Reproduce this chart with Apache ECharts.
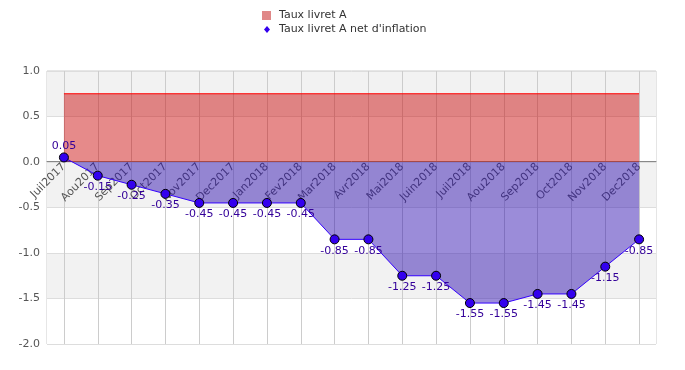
<!DOCTYPE html>
<html>
<head>
<meta charset="utf-8">
<script src="https://cdn.jsdelivr.net/npm/echarts@6/dist/echarts.min.js"></script>
<style>html,body{margin:0;padding:0;background:#fff}#c{width:685px;height:370px}</style>
</head>
<body>
<div id="c"></div>
<script>
var categories = ['Juil2017','Aou2017','Sep2017','Oct2017','Nov2017','Dec2017','Jan2018','Fev2018','Mar2018','Avr2018','Mai2018','Juin2018','Juil2018','Aou2018','Sep2018','Oct2018','Nov2018','Dec2018'];
var tauxLivretA = [0.75,0.75,0.75,0.75,0.75,0.75,0.75,0.75,0.75,0.75,0.75,0.75,0.75,0.75,0.75,0.75,0.75,0.75];
var tauxNet = [0.05,-0.15,-0.25,-0.35,-0.45,-0.45,-0.45,-0.45,-0.85,-0.85,-1.25,-1.25,-1.55,-1.55,-1.45,-1.45,-1.15,-0.85];
var seriesNames = ['Taux livret A', "Taux livret A net d'inflation"];

var FONT = 'DejaVu Sans';
var chart = echarts.init(document.getElementById('c'), null, {renderer: 'canvas'});
var netData = tauxNet.map(function (v) {
  return {value: v, label: {position: v >= 0 ? 'top' : 'bottom'}};
});
chart.setOption({
  animation: false,
  textStyle: {fontFamily: FONT},
  legend: [{
    data: [{name: seriesNames[0], icon: 'rect'}],
    left: 262, top: 10, itemWidth: 9, itemHeight: 9, padding: 0,
    textStyle: {fontFamily: FONT, fontSize: 11, color: '#333', padding: [0, 0, 0, 3]}
  }, {
    data: [{name: seriesNames[1], icon: 'diamond', itemStyle: {color: '#3300ee', borderWidth: 0}}],
    left: 264, top: 24, itemWidth: 6, itemHeight: 7, padding: 0,
    itemStyle: {color: '#3300ee', borderWidth: 0},
    textStyle: {fontFamily: FONT, fontSize: 11, color: '#333', padding: [0, 0, 0, 4]}
  }],
  grid: {left: 47, right: 29, top: 71, bottom: 26, show: true, borderColor: '#cccccc', borderWidth: 1, backgroundColor: 'transparent', containLabel: false, outerBoundsMode: 'none'},
  xAxis: {
    type: 'category',
    data: categories,
    boundaryGap: true,
    offset: -183,
    axisLine: {onZero: false, lineStyle: {color: '#888', width: 1}},
    axisTick: {show: false, alignWithLabel: true},
    axisLabel: {rotate: 45, color: '#555', fontFamily: FONT, fontSize: 11, margin: 4, interval: 0},
    splitLine: {show: true, alignWithLabel: true, interval: 0, lineStyle: {color: '#cccccc', width: 1}}
  },
  yAxis: {
    type: 'value',
    min: -2, max: 1, interval: 0.5,
    axisLine: {show: false},
    axisTick: {show: false},
    axisLabel: {color: '#555', fontFamily: FONT, fontSize: 11, margin: 7, formatter: function (v) { return v.toFixed(1); }},
    splitLine: {show: true, lineStyle: {color: '#dddddd', width: 1}},
    splitArea: {show: true, areaStyle: {color: ['#ffffff', '#f2f2f2']}}
  },
  series: [{
    name: seriesNames[0],
    type: 'line',
    data: tauxLivretA,
    showSymbol: false,
    symbol: 'none',
    itemStyle: {color: '#e08888'},
    lineStyle: {color: '#ff0000', width: 1.2, opacity: 1},
    areaStyle: {color: 'rgba(200,0,0,0.46)', origin: 0, opacity: 1},
    z: 2
  }, {
    name: seriesNames[1],
    type: 'line',
    data: netData,
    symbol: 'circle',
    symbolSize: 9,
    itemStyle: {color: '#3300ee', borderColor: '#000', borderWidth: 1},
    lineStyle: {color: '#3300ff', width: 1},
    areaStyle: {color: 'rgba(45,15,175,0.48)', origin: 0, opacity: 1},
    label: {
      show: true, color: '#330099', fontFamily: FONT, fontSize: 11, distance: 1,
      formatter: function (p) { return Number(p.value).toFixed(2); }
    },
    z: 3
  }]
});
</script>
</body>
</html>
